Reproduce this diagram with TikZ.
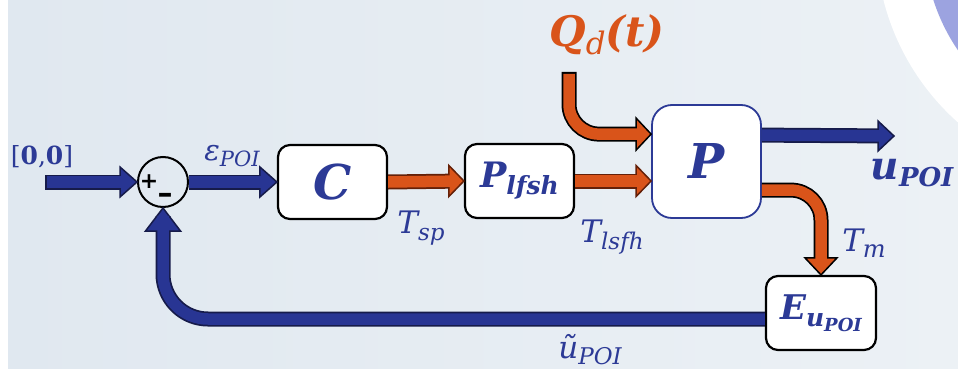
\documentclass[tikz,border=0pt]{standalone}
\usepackage{fontspec}
\setmainfont{DejaVu Serif}
\newfontfamily\signfont{DejaVu Sans}
\usetikzlibrary{calc}

\definecolor{navy}{RGB}{40,53,147}
\definecolor{navyrim}{RGB}{22,27,74}
\definecolor{lblue}{RGB}{44,58,150}
\definecolor{rust}{RGB}{217,84,26}
\definecolor{rustrim}{RGB}{100,32,8}
\definecolor{bgleft}{RGB}{224,232,240}
\definecolor{bgright}{RGB}{236,241,245}
\definecolor{lavender}{RGB}{156,163,224}

% lowered, smaller index: #1 size in pt, #2 text
\newcommand\idx[2]{\raisebox{-0.2em}{\fontsize{#1}{#1}\selectfont #2}}
\newcommand\fsz[1]{\fontsize{#1}{#1}\selectfont}

\tikzset{
  blockbox/.style={draw=black, line width=2.2pt, fill=white, rounded corners=12pt,
    minimum width=109pt, minimum height=74pt, inner sep=0pt, text=lblue,
    font=\bfseries\itshape},
  lbl/.style={text=lblue, inner sep=0pt, font=\itshape},
  shaftout/.style={line width=15pt, shorten >=8pt},
  shaftin/.style={line width=11.5pt, shorten >=8pt},
  pics/bhead/.style 2 args={code={
    \path[pic actions] (0,0) -- (-#1,#2/2) -- (-#1,-#2/2) -- cycle;}}
}

% block arrow: #1 inner-shaft options, #2 fill, #3 rim, #4 path, #5 tip, #6 direction, #7 head {length}{width}
\newcommand\blockarrow[7]{%
  \draw[shaftout,#3] #4;
  \pic[rotate=#6, fill=#2, draw=#3, line width=1.5pt] at (#5) {bhead=#7};
  \draw[shaftin,#2,#1] #4;
}

\begin{document}
\begin{tikzpicture}[x=1pt,y=-1pt]
\useasboundingbox (0,0) rectangle (958,369);

% backdrop
\fill[white] (0,0) rectangle (958,369);
\shade[left color=bgleft, right color=bgright] (8,0) rectangle (958,369);
\begin{scope}
  \clip (8,0) rectangle (958,369);
  \fill[white] (1120,-60) circle[radius=244];
  \fill[lavender] (1120,-60) circle[radius=196];
\end{scope}

% blocks
\node[blockbox] (C) at (332.5,182) {\fsz{48}C};
\node[blockbox] (Pl) at (519.5,181) {\fsz{35}P\idx{25}{lfsh}};
\node[blockbox, draw=lblue, line width=1.8pt, rounded corners=20pt,
      minimum height=113pt] (P) at (706.5,161.5) {\fsz{48}P};
\node[blockbox, minimum width=110pt] (E) at (821,313) {\fsz{34}E\idx{25}{u\idx{18}{POI}}};

% summing junction
\node[draw=black, line width=2pt, circle, minimum size=50pt, inner sep=0pt] (sum) at (163,182) {};
\node[inner sep=0pt, font=\fsz{22}\signfont\bfseries] (plus) at (149,182) {+};
\node[inner sep=0pt, font=\fsz{30}\signfont\bfseries] (minus) at (165,198) {–};

% connector end points
\coordinate (inS) at (45,182);
\coordinate (qS) at (569,72);
\coordinate (qE) at ($(P.north west)+(0,30)$);
\coordinate (pOut) at ($(P.north east)+(0,31)$);
\coordinate (uE) at (894,136);
\coordinate (tmS) at ($(P.north east)+(0,86)$);
\coordinate (fbS) at ($(E.west)+(0,6)$);

% signal arrows
\blockarrow{shorten <=1.75pt}{navy}{navyrim}{(inS) -- (sum.west)}{sum.west}{0}{{17}{30}}
\blockarrow{}{navy}{navyrim}{(sum.east) -- (C.west)}{C.west}{0}{{17}{30}}
\blockarrow{}{rust}{rustrim}{(C.east) -- (Pl.west)}{Pl.west}{0}{{15}{31}}
\blockarrow{}{rust}{rustrim}{(Pl.east) -- (Pl.east -| P.west)}{Pl.east -| P.west}{0}{{15}{31}}
\blockarrow{shorten <=1.75pt}{rust}{black}{(qS) [rounded corners=30pt] |- (qE)}{qE}{0}{{15}{32}}
\blockarrow{}{navy}{navyrim}{(pOut) -- (uE)}{uE}{0}{{16}{30}}
\blockarrow{}{rust}{black}{(tmS) [rounded corners=30pt] -| (E.north)}{E.north}{-90}{{17}{32}}
\blockarrow{}{navy}{navyrim}{(fbS) [rounded corners=45pt] -| (sum.south)}{sum.south}{90}{{23}{35}}

% signal labels
\node[lbl, font=\fsz{25}\upshape] (ref) at (42,157) {[\textbf{0},\textbf{0}]};
\node[lbl, font=\fsz{29}\itshape] (eps) at (232,156) {ε\idx{21}{POI}};
\node[lbl, font=\fsz{31}\itshape] (tsp) at (421,228) {T\idx{23}{sp}};
\node[lbl, font=\fsz{31}\itshape] (tlsfh) at (612,237) {T\idx{23}{lsfh}};
\node[inner sep=0pt, text=rust, font=\fsz{42}\bfseries\itshape] (qd) at (607,35) {Q\idx{31}{\mdseries d}(t)};
\node[lbl, font=\fsz{39}\bfseries\itshape] (upoi) at (912,173) {u\idx{26}{POI}};
\node[lbl, font=\fsz{31}\itshape] (tm) at (864,243) {T\idx{24}{m}};
\node[lbl, font=\fsz{31}\itshape] (ut) at (590,350) {ũ\idx{23}{POI}};
\end{tikzpicture}
\end{document}
